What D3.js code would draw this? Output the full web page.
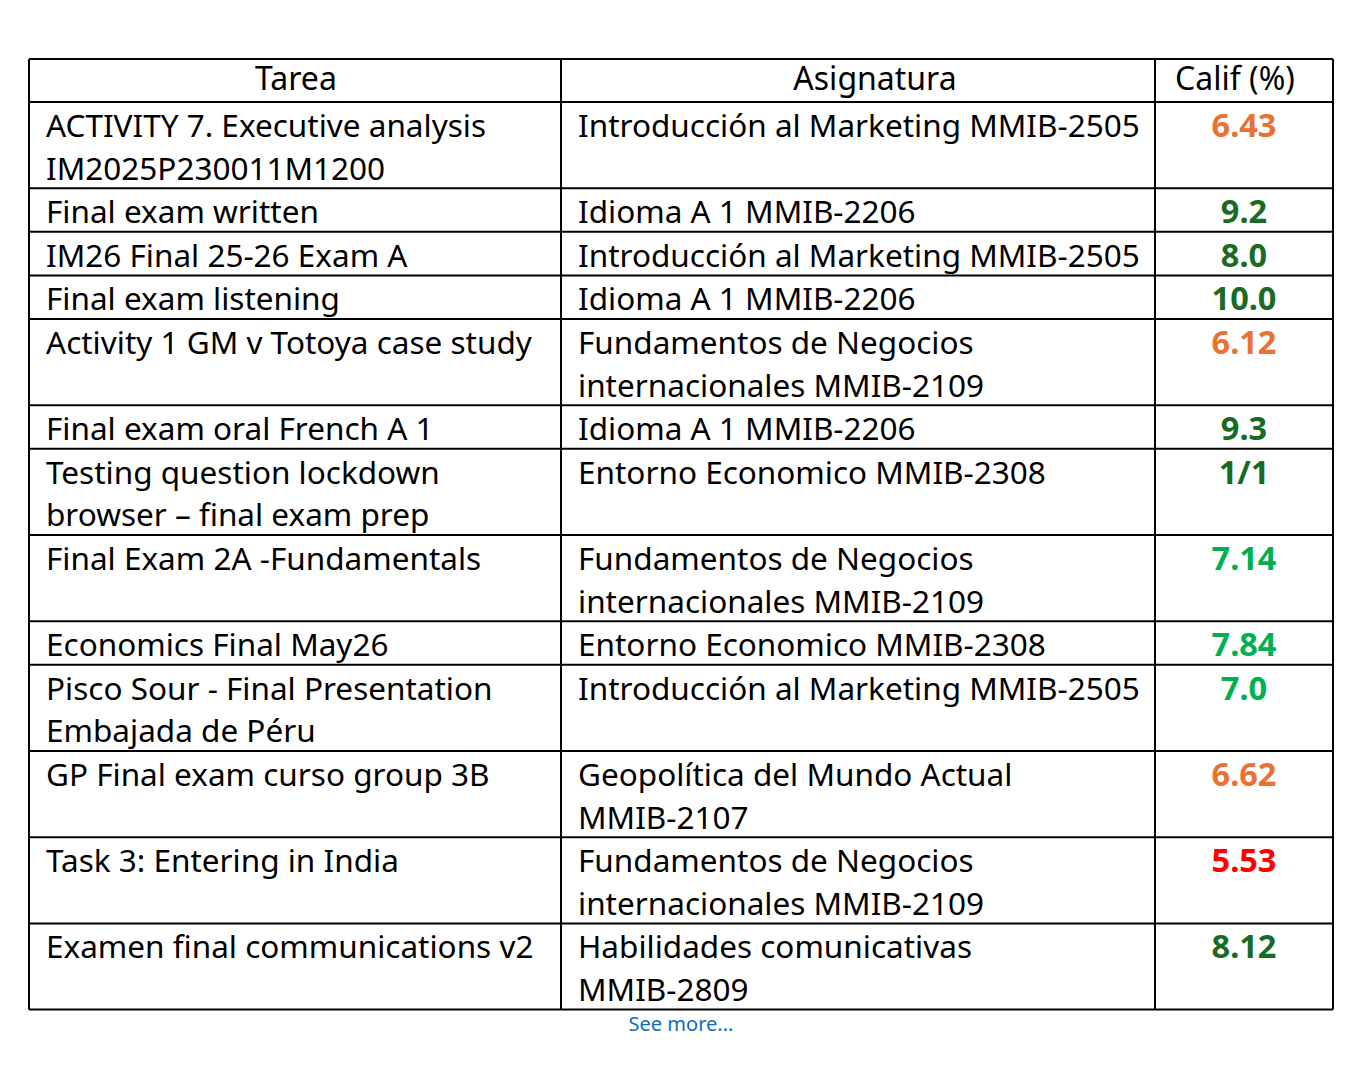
<!DOCTYPE html>
<html>
<head>
<meta charset="utf-8">
<script src="https://cdn.jsdelivr.net/npm/d3@7"></script>
<style>
body { margin: 0; background: #fff; }
</style>
</head>
<body>
<div id="chart"></div>
<script>
// column headers
let headers = ["Tarea", "Asignatura", "Calif (%)"];

// task names, one entry per wrapped line
let tareas = [
    ["ACTIVITY 7. Executive analysis", "IM2025P230011M1200"],
    ["Final exam written"],
    ["IM26 Final 25-26 Exam A"],
    ["Final exam listening"],
    ["Activity 1 GM v Totoya case study"],
    ["Final exam oral French A 1"],
    ["Testing question lockdown", "browser \u2013 final exam prep"],
    ["Final Exam 2A -Fundamentals"],
    ["Economics Final May26"],
    ["Pisco Sour - Final Presentation", "Embajada de P\u00e9ru"],
    ["GP Final exam curso group 3B"],
    ["Task 3: Entering in India"],
    ["Examen final communications v2"],
];

let asignaturas = [
    ["Introducci\u00f3n al Marketing MMIB-2505"],
    ["Idioma A 1 MMIB-2206"],
    ["Introducci\u00f3n al Marketing MMIB-2505"],
    ["Idioma A 1 MMIB-2206"],
    ["Fundamentos de Negocios", "internacionales MMIB-2109"],
    ["Idioma A 1 MMIB-2206"],
    ["Entorno Economico MMIB-2308"],
    ["Fundamentos de Negocios", "internacionales MMIB-2109"],
    ["Entorno Economico MMIB-2308"],
    ["Introducci\u00f3n al Marketing MMIB-2505"],
    ["Geopol\u00edtica del Mundo Actual", "MMIB-2107"],
    ["Fundamentos de Negocios", "internacionales MMIB-2109"],
    ["Habilidades comunicativas", "MMIB-2809"],
];

let califs = ["6.43", "9.2", "8.0", "10.0", "6.12", "9.3", "1/1", "7.14", "7.84", "7.0", "6.62", "5.53", "8.12"];

let width = 1368, height = 1086;
let tLeft = 29, tRight = 1333, tTop = 59, headH = 43;
let lineH = 42.6;
let font = "'Noto Sans', sans-serif";
let fs = 31.5;
let headerShift = [1, 17, -9];

let svg = d3.select("#chart").append("svg")
    .attr("width", width)
    .attr("height", height);

let x = d3.scaleLinear().domain([0, 1]).range([tLeft, tRight]);
let colEdges = [0, (561 - tLeft) / (tRight - tLeft), (1155 - tLeft) / (tRight - tLeft), 1];

// grade colour by value (fractions count as percent of 10)
function gradeValue(s) {
    if (s.indexOf("/") >= 0) {
        let [a, b] = s.split("/").map(Number);
        return a / b * 10;
    }
    return +s;
}
let gradeColor = d3.scaleThreshold()
    .domain([6, 7, 8])
    .range(["#ff0000", "#e97132", "#00b050", "#196b24"]);

// row layout
let rows = tareas.map((t, i) => ({
    tarea: t,
    asig: asignaturas[i],
    calif: califs[i],
    lines: Math.max(t.length, asignaturas[i].length),
}));
let yPos = tTop + headH;
rows.forEach(r => {
    r.y0 = yPos;
    r.h = 1 + lineH * r.lines;
    yPos += r.h;
});
let tBottom = yPos;

// header
let hg = svg.append("g");
headers.forEach((h, i) => {
    let cx = (x(colEdges[i]) + x(colEdges[i + 1])) / 2 + headerShift[i];
    hg.append("text")
        .attr("x", cx)
        .attr("y", tTop + 31)
        .attr("text-anchor", "middle")
        .style("font-family", font)
        .style("font-size", "32px")
        .attr("fill", "#000")
        .text(h);
});

// body rows
let rg = svg.selectAll("g.row")
    .data(rows)
    .join("g")
    .attr("class", "row")
    .attr("transform", d => `translate(0, ${d.y0})`);

rg.each(function(d) {
    let g = d3.select(this);
    g.selectAll("text.t")
        .data(d.tarea)
        .join("text")
        .attr("class", "t")
        .attr("x", x(colEdges[0]) + 17)
        .attr("y", (s, j) => 35 + j * lineH)
        .style("font-family", font)
        .style("font-size", fs + "px")
        .text(s => s);
    g.selectAll("text.a")
        .data(d.asig)
        .join("text")
        .attr("class", "a")
        .attr("x", x(colEdges[1]) + 17)
        .attr("y", (s, j) => 35 + j * lineH)
        .style("font-family", font)
        .style("font-size", fs + "px")
        .text(s => s);
    g.append("text")
        .attr("x", (x(colEdges[2]) + x(colEdges[3])) / 2)
        .attr("y", 35)
        .attr("text-anchor", "middle")
        .style("font-family", font)
        .style("font-size", "32.5px")
        .style("font-weight", "bold")
        .attr("fill", gradeColor(gradeValue(d.calif)))
        .text(d.calif);
});

// grid lines
let grid = svg.append("g")
    .attr("stroke", "#000")
    .attr("stroke-width", 2);
let hLines = [tTop, tTop + headH].concat(rows.map(r => r.y0 + r.h));
grid.selectAll("line.h")
    .data(hLines)
    .join("line")
    .attr("class", "h")
    .attr("x1", tLeft).attr("x2", tRight)
    .attr("y1", d => d).attr("y2", d => d);
grid.selectAll("line.v")
    .data(colEdges)
    .join("line")
    .attr("class", "v")
    .attr("x1", d => x(d)).attr("x2", d => x(d))
    .attr("y1", tTop).attr("y2", tBottom);

// footer link
svg.append("text")
    .attr("x", 681)
    .attr("y", tBottom + 21)
    .attr("text-anchor", "middle")
    .style("font-family", font)
    .style("font-size", "20px")
    .attr("fill", "#0f6cbd")
    .text("See more...");
</script>
</body>
</html>
